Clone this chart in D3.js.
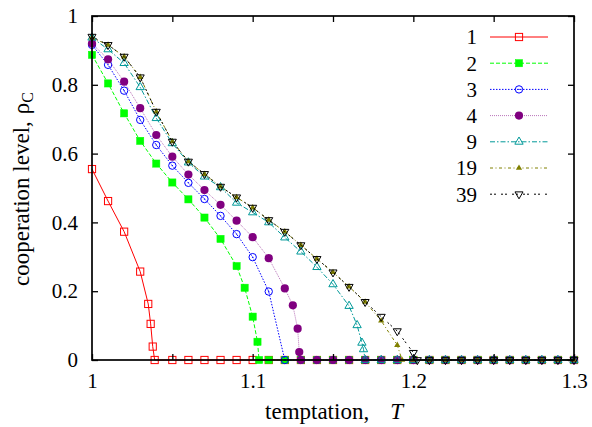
<!DOCTYPE html>
<html>
<head>
<meta charset="utf-8">
<script src="https://cdn.jsdelivr.net/npm/d3@7"></script>
<style>
  body { margin: 0; background: #fff; }
  text { font-family: "Liberation Serif", "Times New Roman", serif; }
</style>
</head>
<body>
<svg id="chart" width="592" height="427"></svg>
<script>
// series labels (legend)
const seriesNames = ['1', '2', '3', '4', '9', '19', '39']

// temptation values and cooperation levels
const t1 = [1.00, 1.01, 1.02, 1.03, 1.035, 1.0365, 1.0378, 1.039, 1.05, 1.06, 1.07, 1.08, 1.09, 1.10, 1.11, 1.12, 1.13, 1.14, 1.15, 1.16, 1.17, 1.18, 1.19, 1.20, 1.21, 1.22, 1.23, 1.24, 1.25, 1.26, 1.27, 1.28, 1.29, 1.30]
const rho1 = [0.555, 0.462, 0.373, 0.257, 0.163, 0.105, 0.039, 0, 0, 0, 0, 0, 0, 0, 0, 0, 0, 0, 0, 0, 0, 0, 0, 0, 0, 0, 0, 0, 0, 0, 0, 0, 0, 0]

const t2 = [1.00, 1.01, 1.02, 1.03, 1.04, 1.05, 1.06, 1.07, 1.08, 1.09, 1.095, 1.10, 1.103, 1.104, 1.11, 1.12, 1.13, 1.14, 1.15, 1.16, 1.17, 1.18, 1.19, 1.20, 1.21, 1.22, 1.23, 1.24, 1.25, 1.26, 1.27, 1.28, 1.29, 1.30]
const rho2 = [0.887, 0.804, 0.717, 0.637, 0.571, 0.516, 0.467, 0.414, 0.352, 0.273, 0.210, 0.126, 0.053, 0, 0, 0, 0, 0, 0, 0, 0, 0, 0, 0, 0, 0, 0, 0, 0, 0, 0, 0, 0, 0]

const t3 = [1.00, 1.01, 1.02, 1.03, 1.04, 1.05, 1.06, 1.07, 1.08, 1.09, 1.10, 1.11, 1.12, 1.13, 1.14, 1.15, 1.16, 1.17, 1.18, 1.19, 1.20, 1.21, 1.22, 1.23, 1.24, 1.25, 1.26, 1.27, 1.28, 1.29, 1.30]
const rho3 = [0.916, 0.858, 0.783, 0.698, 0.625, 0.565, 0.515, 0.468, 0.419, 0.366, 0.299, 0.199, 0, 0, 0, 0, 0, 0, 0, 0, 0, 0, 0, 0, 0, 0, 0, 0, 0, 0, 0]

const t4 = [1.00, 1.01, 1.02, 1.03, 1.04, 1.05, 1.06, 1.07, 1.08, 1.09, 1.10, 1.11, 1.12, 1.125, 1.128, 1.129, 1.13, 1.14, 1.15, 1.16, 1.17, 1.18, 1.19, 1.20, 1.21, 1.22, 1.23, 1.24, 1.25, 1.26, 1.27, 1.28, 1.29, 1.30]
const rho4 = [0.920, 0.874, 0.809, 0.732, 0.654, 0.591, 0.539, 0.494, 0.451, 0.405, 0.357, 0.296, 0.208, 0.159, 0.091, 0.023, 0, 0, 0, 0, 0, 0, 0, 0, 0, 0, 0, 0, 0, 0, 0, 0, 0, 0]

const t9 = [1.00, 1.01, 1.02, 1.03, 1.04, 1.05, 1.06, 1.07, 1.08, 1.09, 1.10, 1.11, 1.12, 1.13, 1.14, 1.15, 1.16, 1.165, 1.168, 1.169, 1.17, 1.18, 1.19, 1.20, 1.21, 1.22, 1.23, 1.24, 1.25, 1.26, 1.27, 1.28, 1.29, 1.30]
const rho9 = [0.937, 0.903, 0.863, 0.793, 0.703, 0.630, 0.574, 0.533, 0.502, 0.457, 0.429, 0.400, 0.356, 0.315, 0.270, 0.220, 0.157, 0.101, 0.050, 0.031, 0, 0, 0, 0, 0, 0, 0, 0, 0, 0, 0, 0, 0, 0]

const t19 = [1.00, 1.01, 1.02, 1.03, 1.04, 1.05, 1.06, 1.07, 1.08, 1.09, 1.10, 1.11, 1.12, 1.13, 1.14, 1.15, 1.16, 1.17, 1.18, 1.19, 1.193, 1.20, 1.21, 1.22, 1.23, 1.24, 1.25, 1.26, 1.27, 1.28, 1.29, 1.30]
const rho19 = [0.937, 0.916, 0.882, 0.822, 0.722, 0.635, 0.577, 0.540, 0.504, 0.473, 0.443, 0.407, 0.373, 0.334, 0.294, 0.255, 0.213, 0.169, 0.114, 0.043, 0, 0, 0, 0, 0, 0, 0, 0, 0, 0, 0, 0]

const t39 = [1.00, 1.01, 1.02, 1.03, 1.04, 1.05, 1.06, 1.07, 1.08, 1.09, 1.10, 1.11, 1.12, 1.13, 1.14, 1.15, 1.16, 1.17, 1.18, 1.19, 1.20, 1.2025, 1.21, 1.22, 1.23, 1.24, 1.25, 1.26, 1.27, 1.28, 1.29, 1.30]
const rho39 = [0.940, 0.916, 0.882, 0.822, 0.722, 0.635, 0.577, 0.541, 0.504, 0.473, 0.443, 0.407, 0.373, 0.334, 0.294, 0.255, 0.213, 0.169, 0.126, 0.084, 0.021, 0, 0, 0, 0, 0, 0, 0, 0, 0, 0, 0]

// axis ticks
const xTicks = [1, 1.05, 1.1, 1.15, 1.2, 1.25, 1.3]
const xTickLabels = [1, 1.1, 1.2, 1.3]
const yTicks = [0, 0.2, 0.4, 0.6, 0.8, 1]

const seriesT = [t1, t2, t3, t4, t9, t19, t39]
const seriesRho = [rho1, rho2, rho3, rho4, rho9, rho19, rho39]

// line / point styles, one per series
const styles = [
  {color: '#ff0000', dash: null, marker: 'square', opacity: 1},
  {color: '#00ff00', dash: '4,2', marker: 'squareFilled', opacity: 1},
  {color: '#0000ff', dash: '1.5,1.5', marker: 'circle', opacity: 1},
  {color: '#800080', dash: '1,1', marker: 'circleFilled', opacity: 0.55},
  {color: '#009999', dash: '5,2,1.5,2', marker: 'triangle', opacity: 1},
  {color: '#808000', dash: '3,2.5,1,2.5', marker: 'triangleFilled', opacity: 1},
  {color: '#000000', dash: '2,2,2,5', marker: 'triangleDown', opacity: 1}
]

const svg = d3.select('#chart')
const plot = {left: 92, right: 574, top: 16, bottom: 360}

const x = d3.scaleLinear().domain([1, 1.3]).range([plot.left, plot.right])
const y = d3.scaleLinear().domain([0, 1]).range([plot.bottom, plot.top])

function drawMarker(g, type, color, cx, cy) {
  if (type === 'square' || type === 'squareFilled') {
    g.append('rect')
      .attr('x', cx - 3.6).attr('y', cy - 3.6)
      .attr('width', 7.2).attr('height', 7.2)
      .attr('fill', type === 'squareFilled' ? color : 'none')
      .attr('stroke', color).attr('stroke-width', type === 'squareFilled' ? 0.5 : 1)
  } else if (type === 'circle') {
    g.append('circle').attr('cx', cx).attr('cy', cy).attr('r', 3.7)
      .attr('fill', 'none').attr('stroke', color).attr('stroke-width', 1)
    g.append('circle').attr('cx', cx).attr('cy', cy).attr('r', 0.7).attr('fill', color)
  } else if (type === 'circleFilled') {
    g.append('circle').attr('cx', cx).attr('cy', cy).attr('r', 4.1).attr('fill', color)
  } else if (type === 'triangle') {
    g.append('path')
      .attr('d', d3.symbol(d3.symbolTriangle, 30)())
      .attr('transform', `translate(${cx},${cy})`)
      .attr('fill', 'none').attr('stroke', color).attr('stroke-width', 1)
  } else if (type === 'triangleFilled') {
    g.append('path')
      .attr('d', d3.symbol(d3.symbolTriangle, 17)())
      .attr('transform', `translate(${cx},${cy})`)
      .attr('fill', color)
  } else if (type === 'triangleDown') {
    g.append('path')
      .attr('d', d3.symbol(d3.symbolTriangle, 28)())
      .attr('transform', `translate(${cx},${cy}) rotate(180)`)
      .attr('fill', 'none').attr('stroke', color).attr('stroke-width', 1)
  }
}

const line = d3.line().x(d => x(d[0])).y(d => y(d[1]))

// series
seriesT.forEach((ts, i) => {
  const st = styles[i]
  const pts = ts.map((t, j) => [t, seriesRho[i][j]])
  const g = svg.append('g').attr('class', 'series')
  g.append('path')
    .attr('d', line(pts))
    .attr('fill', 'none')
    .attr('stroke', st.color)
    .attr('stroke-width', 1)
    .attr('stroke-opacity', st.opacity)
    .attr('stroke-dasharray', st.dash)
  pts.forEach(p => drawMarker(g, st.marker, st.color, x(p[0]), y(p[1])))
})

// axes with inward ticks on all sides
const fmt = d3.format('~g')
const styleAxis = (g, size) => {
  g.select('.domain').remove()
  g.selectAll('.tick line').attr('stroke', '#000').attr('stroke-width', 1.3)
  g.selectAll('.tick text')
    .attr('fill', '#000')
    .attr('font-family', '"Liberation Serif", "Times New Roman", serif')
    .attr('font-size', size)
}

svg.append('g').attr('transform', `translate(0,${plot.bottom})`)
  .call(d3.axisBottom(x).tickValues(xTicks).tickSize(-6).tickPadding(13)
    .tickFormat(d => xTickLabels.some(v => Math.abs(v - d) < 1e-9) ? fmt(d) : ''))
  .call(g => styleAxis(g, 21))

svg.append('g').attr('transform', `translate(0,${plot.top})`)
  .call(d3.axisTop(x).tickValues(xTicks).tickSize(-6).tickFormat(''))
  .call(g => styleAxis(g, 21))

svg.append('g').attr('transform', `translate(${plot.left},0)`)
  .call(d3.axisLeft(y).tickValues(yTicks).tickSize(-6).tickPadding(14).tickFormat(fmt))
  .call(g => styleAxis(g, 21))

svg.append('g').attr('transform', `translate(${plot.right},0)`)
  .call(d3.axisRight(y).tickValues(yTicks).tickSize(-6).tickFormat(''))
  .call(g => styleAxis(g, 21))

// frame
svg.append('rect')
  .attr('x', plot.left).attr('y', plot.top)
  .attr('width', plot.right - plot.left).attr('height', plot.bottom - plot.top)
  .attr('fill', 'none').attr('stroke', '#000').attr('stroke-width', 1.7)

// axis titles
const xTitle = svg.append('text')
  .attr('x', 334).attr('y', 419)
  .attr('text-anchor', 'middle')
  .attr('font-size', 23)
xTitle.append('tspan').text('temptation,')
xTitle.append('tspan').attr('dx', 21).attr('font-style', 'italic').text('T')

const yTitle = svg.append('text')
  .attr('transform', 'translate(29,189) rotate(-90)')
  .attr('text-anchor', 'middle')
  .attr('font-size', 23)
yTitle.append('tspan').text('cooperation level,')
yTitle.append('tspan').attr('dx', 7).text('ρ')
yTitle.append('tspan').attr('dy', 4).attr('font-size', 16).text('C')

// legend
const legend = svg.append('g').attr('class', 'legend')
seriesNames.forEach((name, i) => {
  const st = styles[i]
  const ly = 37 + i * 26.2
  legend.append('text')
    .attr('x', 477).attr('y', ly).attr('dy', '0.35em')
    .attr('text-anchor', 'end').attr('font-size', 21)
    .text(name)
  legend.append('line')
    .attr('x1', 490).attr('x2', 548).attr('y1', ly).attr('y2', ly)
    .attr('stroke', st.color).attr('stroke-width', 1)
    .attr('stroke-opacity', st.opacity)
    .attr('stroke-dasharray', st.dash)
  drawMarker(legend, st.marker, st.color, 519, ly)
})
</script>
</body>
</html>
